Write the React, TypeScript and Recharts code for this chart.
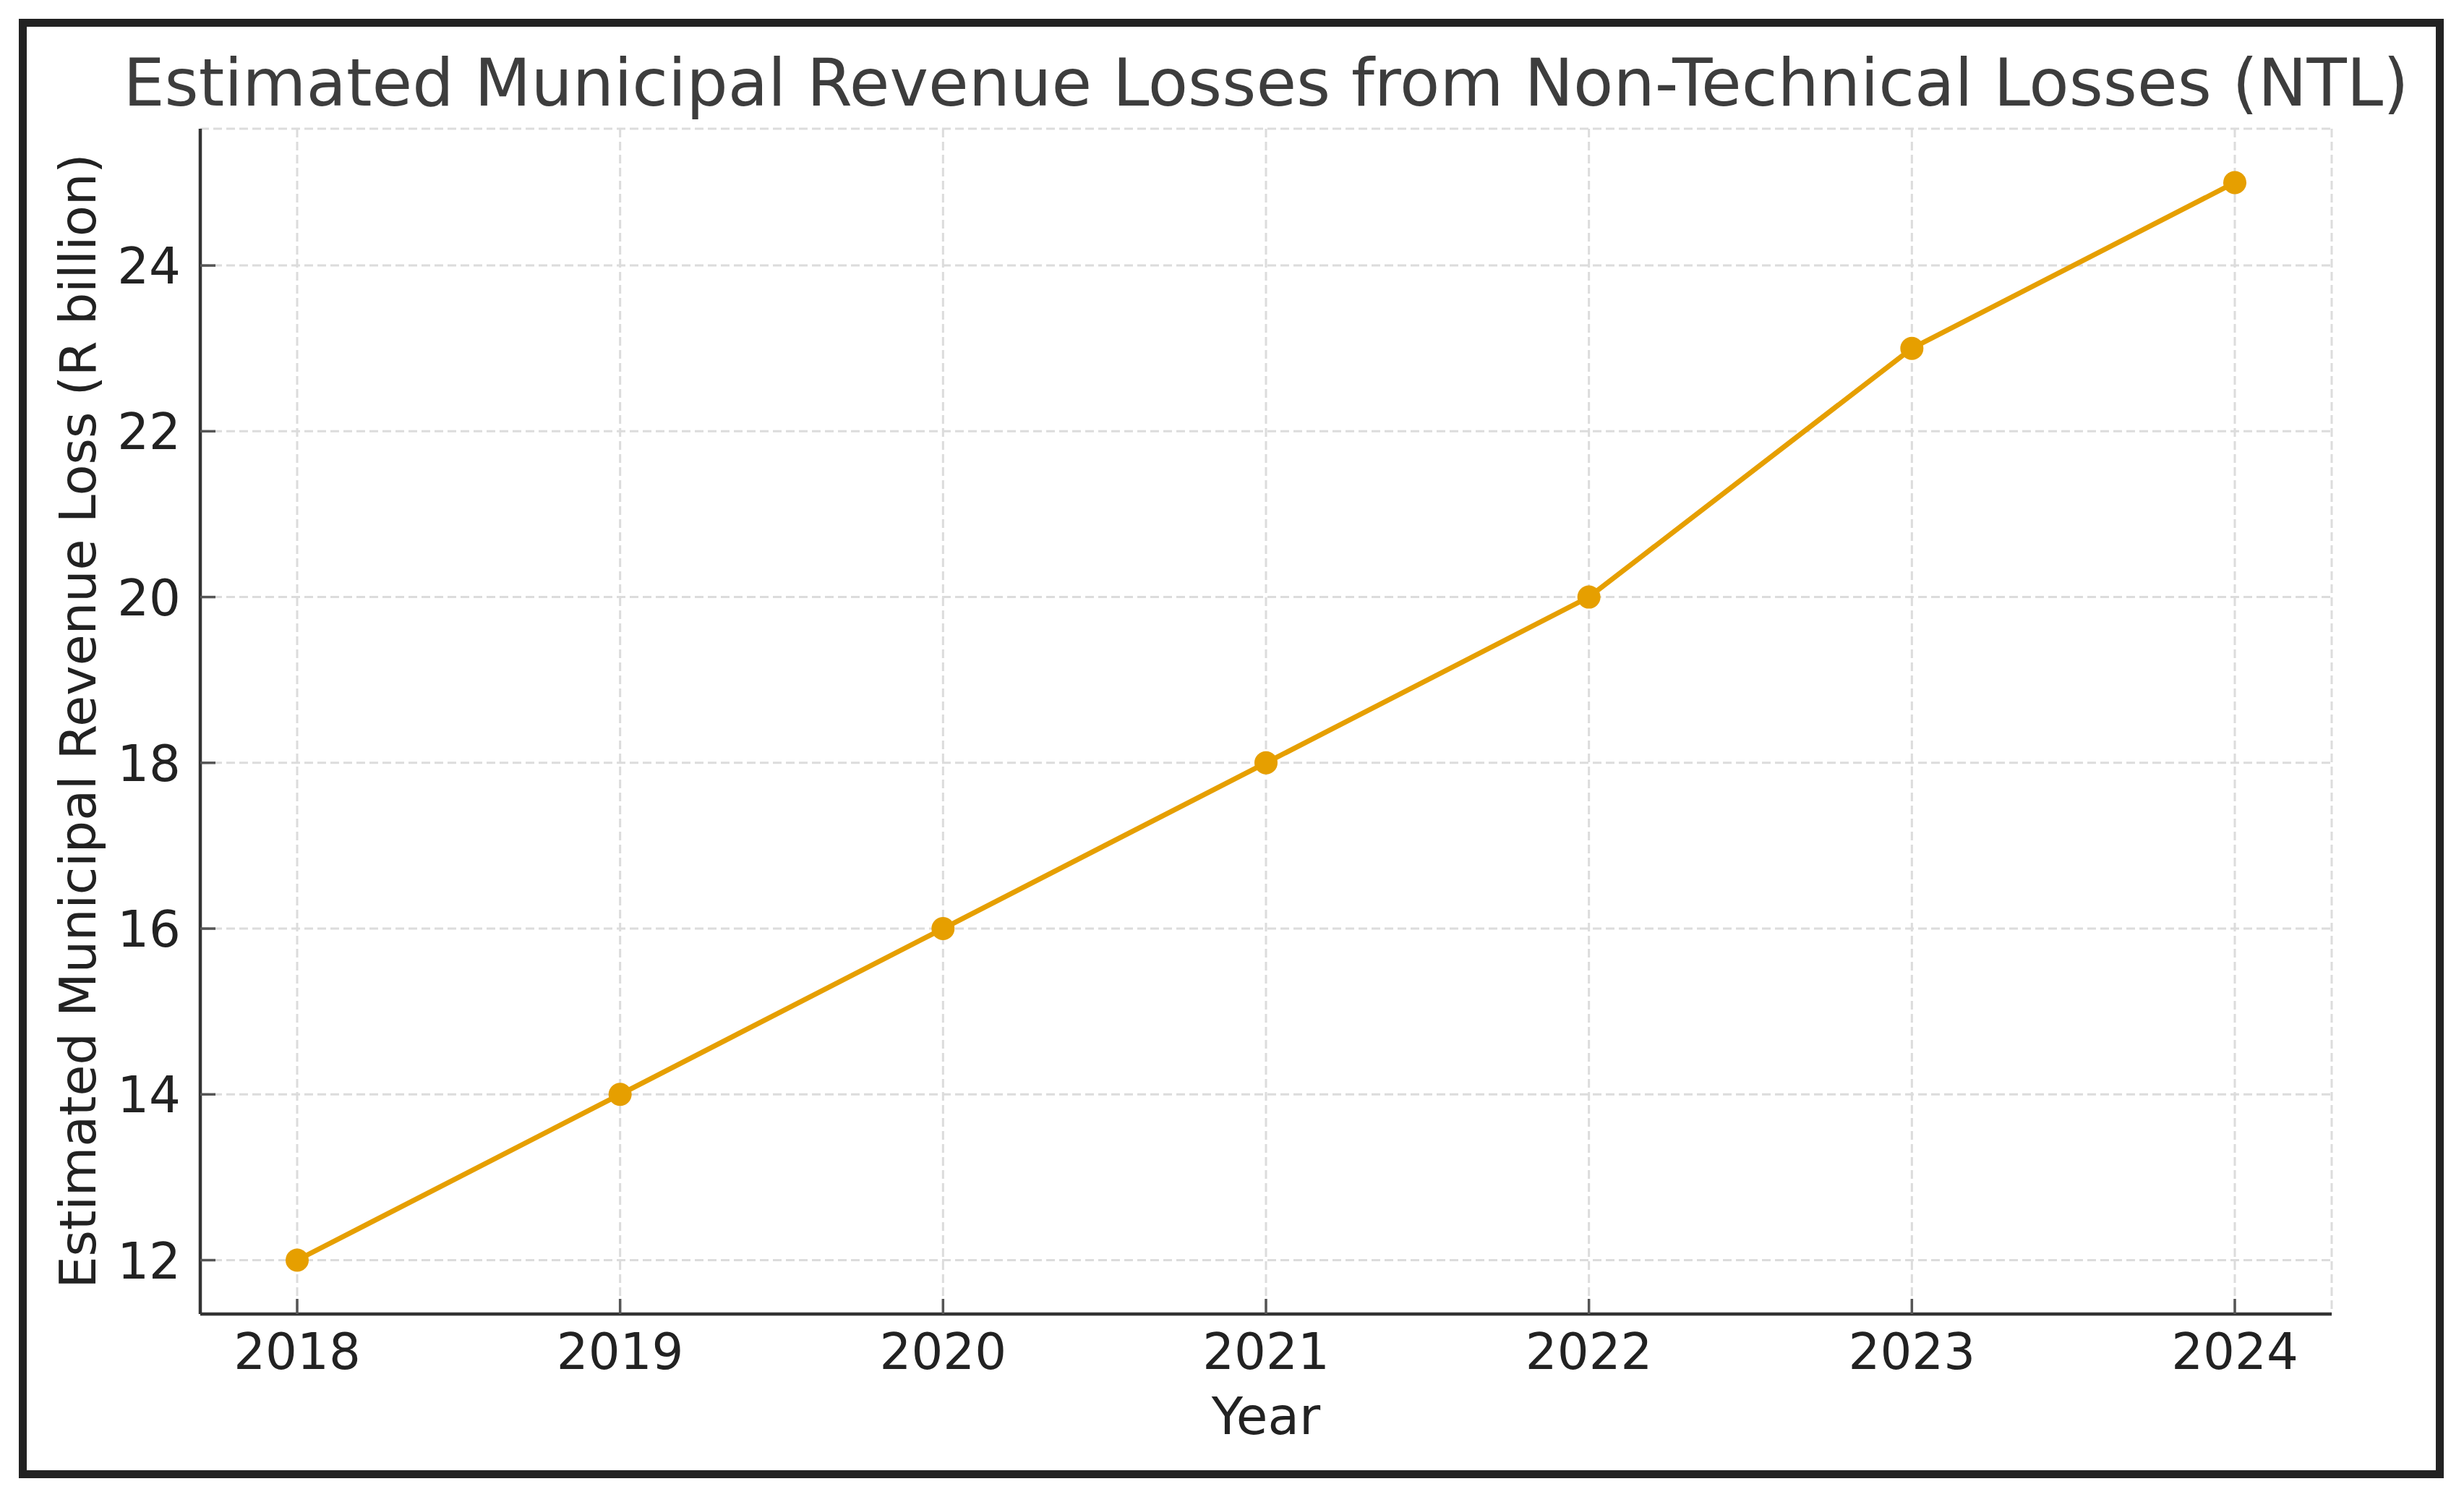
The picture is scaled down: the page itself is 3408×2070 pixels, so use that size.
import React from "react";
import { LineChart, Line, XAxis, YAxis, CartesianGrid } from "recharts";

const years = [2018, 2019, 2020, 2021, 2022, 2023, 2024];
const losses = [12, 14, 16, 18, 20, 23, 25];
const yTicks = [12, 14, 16, 18, 20, 22, 24];

const title = "Estimated Municipal Revenue Losses from Non-Technical Losses (NTL)";
const xLabel = "Year";
const yLabel = "Estimated Municipal Revenue Loss (R billion)";

const data = years.map((year, i) => ({ year, loss: losses[i] }));

const W = 3408;
const H = 2070;
const FONT = "DejaVu Sans, Verdana, sans-serif";
const ORANGE = "#E69F00";

// matplotlib style ticks: drawn inward, label outside
const YTick = (props: any) => {
  const { x, y, payload } = props;
  return (
    <g>
      <line x1={x} x2={x + 21} y1={y} y2={y} stroke="#555" strokeWidth={3.5} />
      <text x={x - 27} y={y + 25} textAnchor="end" fontSize={69} fill="#222" fontFamily={FONT}>
        {payload.value}
      </text>
    </g>
  );
};

const XTick = (props: any) => {
  const { x, y, payload } = props;
  return (
    <g>
      <line x1={x} x2={x} y1={y} y2={y - 21} stroke="#555" strokeWidth={3.5} />
      <text x={x} y={y + 76} textAnchor="middle" fontSize={69} fill="#222" fontFamily={FONT}>
        {payload.value}
      </text>
    </g>
  );
};

export default function App() {
  return (
    <div style={{ position: "absolute", left: 0, top: 0, width: W, height: H, background: "#fff" }}>
      <div
        style={{
          position: "absolute",
          left: 26,
          top: 26,
          width: 3354,
          height: 2018,
          boxSizing: "border-box",
          border: "11px solid #222",
        }}
      />
      <div style={{ position: "absolute", left: 0, top: 0 }}>
        <LineChart width={W} height={H} data={data} margin={{ top: 178, right: 183, bottom: 0, left: 0 }}>
          <CartesianGrid stroke="#dcdcdc" strokeWidth={3} strokeDasharray="12 6" />
          <XAxis
            dataKey="year"
            type="number"
            domain={[2017.7, 2024.3]}
            ticks={years}
            height={253}
            tickSize={0}
            tickMargin={0}
            tickLine={false}
            axisLine={{ stroke: "#333", strokeWidth: 4.5 }}
            tick={XTick}
            interval={0}
          />
          <YAxis
            type="number"
            domain={[11.35, 25.65]}
            ticks={yTicks}
            width={277}
            tickSize={0}
            tickMargin={0}
            tickLine={false}
            axisLine={{ stroke: "#333", strokeWidth: 4.5 }}
            tick={YTick}
            interval={0}
          />
          <Line
            dataKey="loss"
            stroke={ORANGE}
            strokeWidth={7}
            dot={{ r: 16, fill: ORANGE, stroke: ORANGE, strokeWidth: 0 }}
            isAnimationActive={false}
          />
        </LineChart>
      </div>
      <svg width={W} height={H} style={{ position: "absolute", left: 0, top: 0, pointerEvents: "none" }}>
        <text x={1751} y={146} textAnchor="middle" fontSize={90.5} fill="#3d3d3d" fontFamily={FONT}>
          {title}
        </text>
        <text x={1751} y={1983} textAnchor="middle" fontSize={71} fill="#222" fontFamily={FONT}>
          {xLabel}
        </text>
        <text
          x={132}
          y={997}
          textAnchor="middle"
          fontSize={70}
          fill="#222"
          fontFamily={FONT}
          transform="rotate(-90 132 997)"
        >
          {yLabel}
        </text>
      </svg>
    </div>
  );
}
